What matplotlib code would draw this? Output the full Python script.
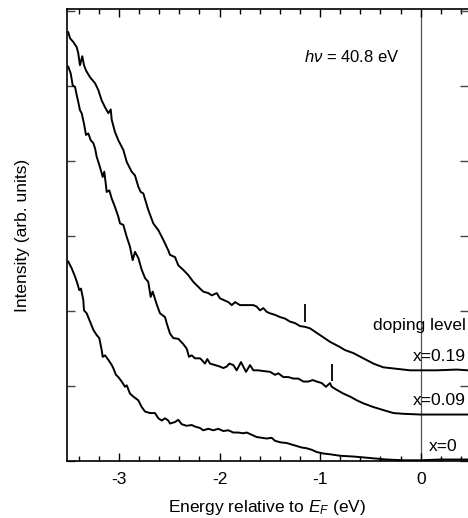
import numpy as np
import matplotlib
matplotlib.use("Agg")
import matplotlib.pyplot as plt
from matplotlib.ticker import MultipleLocator

plt.rcParams['font.family'] = ['Liberation Sans', 'DejaVu Sans']
plt.rcParams['mathtext.fontset'] = 'custom'
plt.rcParams['mathtext.rm'] = 'Liberation Sans'
plt.rcParams['mathtext.it'] = 'Liberation Sans:italic'
plt.rcParams['axes.unicode_minus'] = False

# photoemission spectra (energy in eV, intensity arb. units)
e_019 = [-3.504, -3.487, -3.454, -3.420, -3.405, -3.388, -3.365, -3.348, -3.328, -3.288,
         -3.238, -3.206, -3.172, -3.139, -3.106, -3.082, -3.072, -3.040, -3.007, -2.957,
         -2.923, -2.874, -2.841, -2.808, -2.784, -2.758, -2.709, -2.659, -2.609, -2.559,
         -2.510, -2.493, -2.443, -2.410, -2.361, -2.311, -2.261, -2.194, -2.162, -2.112,
         -2.078, -2.028, -1.996, -1.963, -1.913, -1.879, -1.846, -1.797, -1.730, -1.664,
         -1.631, -1.598, -1.565, -1.531, -1.498, -1.449, -1.398, -1.349, -1.300, -1.250,
         -1.200, -1.150, -1.101, -1.001, -0.902, -0.802, -0.753, -0.670, -0.571, -0.471,
         -0.372, -0.239, -0.106, 0.0, 0.159, 0.358, 0.470]
i_019 = [5.72, 5.64, 5.59, 5.52, 5.44, 5.28, 5.40, 5.28, 5.21, 5.12,
         5.04, 4.95, 4.81, 4.72, 4.64, 4.69, 4.55, 4.39, 4.28, 4.15,
         3.99, 3.86, 3.81, 3.66, 3.59, 3.57, 3.35, 3.17, 3.08, 2.95,
         2.81, 2.75, 2.72, 2.61, 2.55, 2.48, 2.39, 2.30, 2.26, 2.24,
         2.21, 2.24, 2.17, 2.15, 2.12, 2.08, 2.12, 2.08, 2.08, 2.08,
         2.06, 2.01, 2.04, 1.99, 1.97, 1.95, 1.92, 1.90, 1.86, 1.84,
         1.80, 1.79, 1.77, 1.68, 1.59, 1.52, 1.48, 1.44, 1.37, 1.30,
         1.25, 1.23, 1.21, 1.21, 1.21, 1.22, 1.21]

e_009 = [-3.504, -3.480, -3.460, -3.437, -3.420, -3.405, -3.388, -3.371, -3.348, -3.328,
         -3.305, -3.281, -3.255, -3.238, -3.222, -3.189, -3.162, -3.146, -3.122, -3.096,
         -3.072, -3.040, -3.007, -2.990, -2.957, -2.923, -2.891, -2.864, -2.841, -2.808,
         -2.774, -2.741, -2.709, -2.685, -2.665, -2.625, -2.592, -2.542, -2.526, -2.493,
         -2.460, -2.410, -2.361, -2.327, -2.304, -2.277, -2.244, -2.194, -2.178, -2.145,
         -2.122, -2.095, -2.045, -1.996, -1.963, -1.929, -1.903, -1.863, -1.830, -1.787,
         -1.764, -1.737, -1.697, -1.664, -1.615, -1.565, -1.498, -1.449, -1.416, -1.366,
         -1.316, -1.267, -1.217, -1.167, -1.118, -1.074, -1.034, -0.984, -0.942, -0.902,
         -0.885, -0.835, -0.770, -0.703, -0.636, -0.571, -0.471, -0.372, -0.272, -0.173,
         0.0, 0.192, 0.470]
i_009 = [5.26, 5.17, 5.01, 4.99, 4.88, 4.79, 4.68, 4.64, 4.50, 4.35,
         4.37, 4.28, 4.24, 4.17, 4.06, 3.92, 3.79, 3.86, 3.59, 3.61,
         3.50, 3.39, 3.26, 3.17, 3.15, 2.99, 2.86, 2.68, 2.79, 2.71,
         2.55, 2.44, 2.39, 2.19, 2.26, 2.09, 1.97, 1.92, 1.84, 1.70,
         1.64, 1.63, 1.56, 1.50, 1.39, 1.41, 1.37, 1.37, 1.35, 1.30,
         1.36, 1.30, 1.28, 1.26, 1.24, 1.26, 1.30, 1.28, 1.21, 1.32,
         1.26, 1.19, 1.28, 1.21, 1.21, 1.20, 1.19, 1.15, 1.17, 1.12,
         1.12, 1.10, 1.10, 1.06, 1.06, 1.08, 1.06, 1.04, 0.99, 1.04,
         0.99, 0.95, 0.90, 0.86, 0.81, 0.77, 0.72, 0.68, 0.64, 0.63,
         0.62, 0.62, 0.62]

e_000 = [-3.504, -3.470, -3.437, -3.414, -3.395, -3.378, -3.355, -3.348, -3.321, -3.288,
         -3.255, -3.222, -3.196, -3.172, -3.162, -3.139, -3.106, -3.072, -3.057, -3.030,
         -3.007, -2.973, -2.940, -2.923, -2.891, -2.858, -2.808, -2.774, -2.741, -2.692,
         -2.642, -2.609, -2.575, -2.542, -2.510, -2.493, -2.443, -2.410, -2.376, -2.327,
         -2.277, -2.244, -2.194, -2.162, -2.112, -2.062, -2.013, -1.963, -1.913, -1.863,
         -1.814, -1.764, -1.730, -1.680, -1.631, -1.581, -1.531, -1.482, -1.449, -1.398,
         -1.332, -1.283, -1.233, -1.183, -1.134, -1.084, -1.034, -0.968, -0.902, -0.802,
         -0.670, -0.504, -0.338, -0.173, 0.0, 0.192, 0.470]
i_000 = [2.66, 2.57, 2.46, 2.37, 2.28, 2.30, 2.15, 2.01, 1.97, 1.86,
         1.75, 1.68, 1.64, 1.48, 1.39, 1.41, 1.35, 1.28, 1.24, 1.15,
         1.12, 1.06, 0.99, 1.01, 0.90, 0.86, 0.81, 0.72, 0.66, 0.64,
         0.64, 0.57, 0.54, 0.57, 0.54, 0.50, 0.52, 0.55, 0.49, 0.47,
         0.48, 0.46, 0.44, 0.41, 0.43, 0.41, 0.43, 0.40, 0.41, 0.38,
         0.38, 0.37, 0.38, 0.35, 0.32, 0.31, 0.30, 0.31, 0.27, 0.25,
         0.24, 0.22, 0.20, 0.18, 0.17, 0.15, 0.12, 0.10, 0.09, 0.07,
         0.06, 0.04, 0.02, 0.01, 0.01, 0.02, 0.02]

# little bars marking the feature on the doped spectra
mark_e = [-1.15, -0.885]
mark_lo = [1.86, 1.07]
mark_hi = [2.09, 1.29]

labels = ["x=0.19", "x=0.09", "x=0"]
label_e = [0.45, 0.45, 0.36]
label_i = [1.39, 0.81, 0.20]

fig = plt.figure(figsize=(4.68, 5.18), dpi=100)
ax = fig.add_axes([0.1425, 0.110, 0.8575, 0.8726])

ax.axvline(0, color='#555555', lw=0.9, zorder=1)
for e, i in [(e_019, i_019), (e_009, i_009), (e_000, i_000)]:
    ax.plot(e, i, color='black', lw=1.4, zorder=3)
ax.vlines(mark_e, mark_lo, mark_hi, color='black', lw=1.3)

ax.text(-0.21, 5.39, r'$h\nu$ = 40.8 eV', ha='right', va='center', fontsize=12)
ax.text(0.45, 1.81, "doping level", ha='right', va='center', fontsize=12.5)
for lab, x, y in zip(labels, label_e, label_i):
    ax.text(x, y, lab, ha='right', va='center', fontsize=12.5)

ax.set_xlim(-3.52, 0.47)
ax.set_ylim(0, 6.03)
ax.xaxis.set_major_locator(MultipleLocator(1))
ax.xaxis.set_minor_locator(MultipleLocator(0.2))
ax.set_yticks(np.arange(0, 7))
ax.set_yticklabels([])
ax.tick_params(axis='x', which='major', direction='in', top=True, length=6, width=1, labelsize=12.5, pad=8)
ax.tick_params(axis='x', which='minor', direction='in', top=True, length=3.5, width=1)
ax.tick_params(axis='y', which='major', direction='in', right=True, length=6, width=1, color='#444444')
ax.spines['right'].set_visible(False)
for s in ['left', 'top', 'bottom']:
    ax.spines[s].set_linewidth(1.2)

ax.set_xlabel(r'Energy relative to $E_F$ (eV)', fontsize=12.5, labelpad=8)
ax.set_ylabel('Intensity (arb. units)', fontsize=12.5, labelpad=23)

fig.savefig("out.png", dpi=100)
